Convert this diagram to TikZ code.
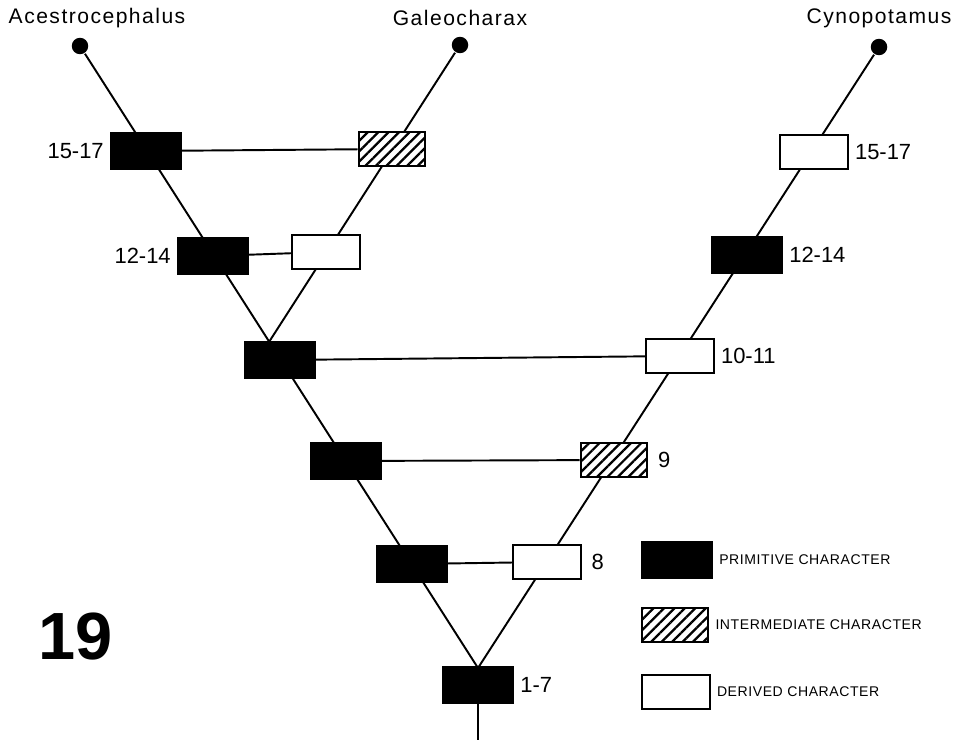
\documentclass[tikz,border=0pt]{standalone}
\usepackage{fontspec}
\setmainfont{Liberation Sans}
\newfontfamily\taxfont[LetterSpace=7]{Liberation Sans}
\newfontfamily\legfont[LetterSpace=4]{Liberation Sans}
\usetikzlibrary{positioning,patterns.meta}

\begin{document}
\begin{tikzpicture}[x=0.02cm, y=-0.02cm, line width=1.1pt]
	\tikzstyle{prim}  = [ draw, rectangle, fill=black, line width=1.2pt, minimum width=1.4cm, minimum height=0.7cm, inner sep=0pt ];
	\tikzstyle{inter} = [ draw, rectangle, line width=1.2pt, minimum width=1.33cm, minimum height=0.68cm, inner sep=0pt,
		preaction={fill=white}, pattern={Lines[angle=45, distance=4.2pt, line width=1.3pt]} ];
	\tikzstyle{deriv} = [ draw, rectangle, fill=white, line width=1.2pt, minimum width=1.35cm, minimum height=0.68cm, inner sep=0pt ];
	\tikzstyle{tip}   = [ circle, fill=black, minimum size=0.33cm, inner sep=0pt ];
	\tikzstyle{taxon} = [ font={\taxfont\fontsize{12}{14}\selectfont} ];
	\tikzstyle{num}   = [ inner sep=1pt, font={\fontsize{12.5}{14}\selectfont} ];
	\tikzstyle{info}  = [ inner sep=1pt, font={\legfont\fontsize{8}{10}\selectfont} ];

	\useasboundingbox (0,0) rectangle (964,740);

	% tips of the tree
	\node[tip] (dA) at (80,46) {};
	\node[tip] (dG) at (460,45) {};
	\node[tip] (dC) at (879,47) {};
	\node[taxon] (tA) at (97,18) {Acestrocephalus};
	\node[taxon] (tG) at (460,18) {Galeocharax};
	\node[taxon] (tC) at (879,18) {Cynopotamus};

	\coordinate (root) at (478,668);
	\coordinate (br)   at (269,342);
	\coordinate (base) at (478,740);

	\draw (dA) -- (root) -- (dC);
	\draw (br) -- (dG);
	\draw (root) -- (base);

	% character boxes
	\foreach \n/\x/\y in {a15/146/151, a12/213/256, a10/280/360, a9/346/461, a8/412/564, r17/478/685, c12/747/255} {
		\node[prim] (\n) at (\x,\y) {};
	}
	\foreach \n/\x/\y in {g15/392/149, c9/614/460} {
		\node[inter] (\n) at (\x,\y) {};
	}
	\foreach \n/\x/\y in {g12/326/252, c15/814/152, c10/680/356, c8/547/562} {
		\node[deriv] (\n) at (\x,\y) {};
	}

	\foreach \xi/\yi in {a15/g15, a12/g12, a10/c10, a9/c9, a8/c8} {
		\draw (\xi) -- (\yi);
	}

	% numbers of the characters
	\node[num, left=2pt of a15]  (na15) {15-17};
	\node[num, left=2pt of a12]  (na12) {12-14};
	\node[num, right=2pt of c15] (nc15) {15-17};
	\node[num, right=2pt of c12] (nc12) {12-14};
	\node[num, right=2pt of c10] (nc10) {10-11};
	\node[num, right=4pt of c9]  (nc9)  {9};
	\node[num, right=4pt of c8]  (nc8)  {8};
	\node[num, right=2pt of r17] (nr17) {1-7};

	\node[font={\bfseries\fontsize{38}{42}\selectfont}] (fig) at (76,637) {19};

	% legend
	\node[prim]  (lp) at (677,560) {};
	\node[inter] (li) at (675,625) {};
	\node[deriv] (ld) at (676,692) {};
	\node[info, right=2pt of lp] (tp) {PRIMITIVE CHARACTER};
	\node[info, right=2pt of li] (ti) {INTERMEDIATE CHARACTER};
	\node[info, right=2pt of ld] (td) {DERIVED CHARACTER};
\end{tikzpicture}
\end{document}
